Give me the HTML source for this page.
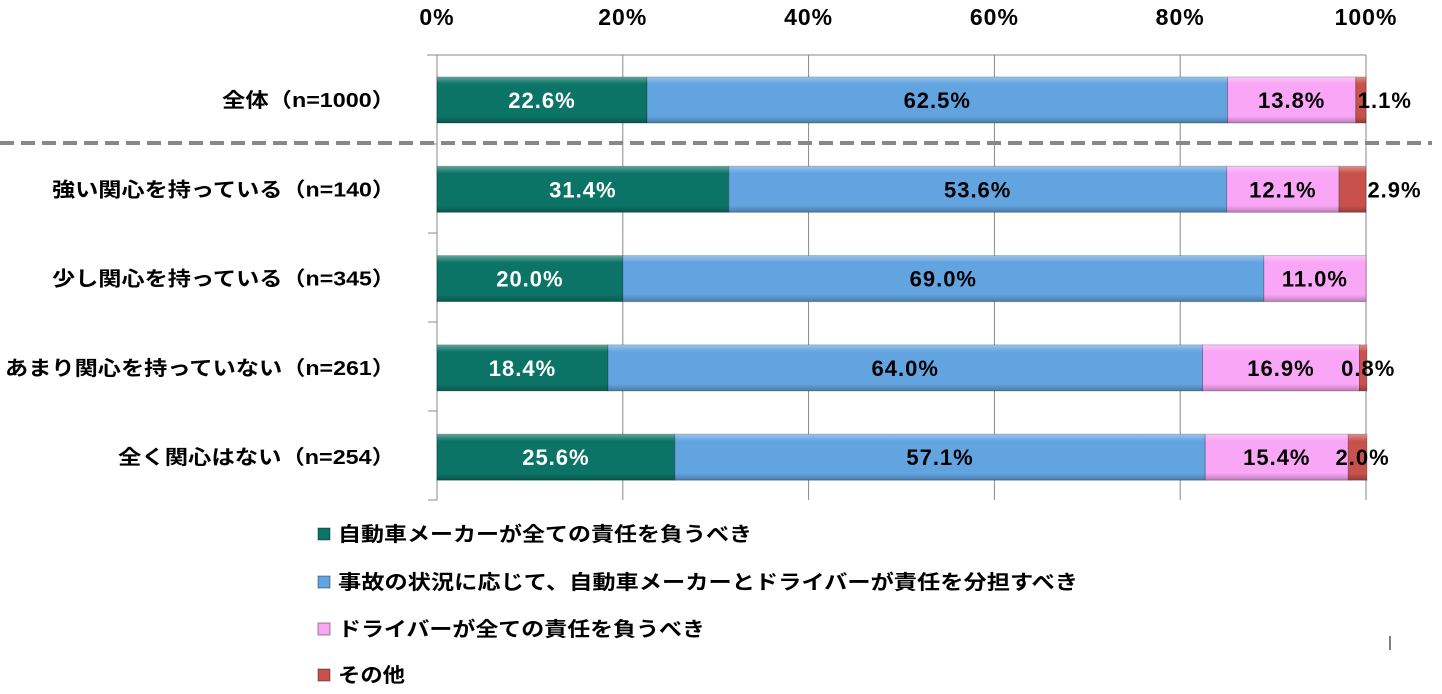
<!DOCTYPE html>
<html><head><meta charset="utf-8">
<style>
body{margin:0;background:#fff;width:1442px;height:689px;overflow:hidden;font-family:"Liberation Sans","Noto Sans CJK JP",sans-serif;}
svg text{font-weight:bold;}
</style></head>
<body>
<svg id="chart" width="1442" height="689" xmlns="http://www.w3.org/2000/svg">
<defs>
<linearGradient id="shade" x1="0" y1="0" x2="0" y2="1">
<stop offset="0" stop-color="#fff" stop-opacity="0.35"/>
<stop offset="0.15" stop-color="#fff" stop-opacity="0"/>
<stop offset="0.85" stop-color="#000" stop-opacity="0"/>
<stop offset="1" stop-color="#000" stop-opacity="0.25"/>
</linearGradient>
</defs>
<g id="grid"></g>
<g id="bars"></g>
<g id="legend"></g>
</svg>
<script>
const categories=["全体（n=1000）","強い関心を持っている（n=140）","少し関心を持っている（n=345）","あまり関心を持っていない（n=261）","全く関心はない（n=254）"];
const seriesNames=["自動車メーカーが全ての責任を負うべき","事故の状況に応じて、自動車メーカーとドライバーが責任を分担すべき","ドライバーが全ての責任を負うべき","その他"];
const maker=[22.6,31.4,20.0,18.4,25.6];
const shared=[62.5,53.6,69.0,64.0,57.1];
const driver=[13.8,12.1,11.0,16.9,15.4];
const other=[1.1,2.9,0,0.8,2.0];
const tickLabels=["0%","20%","40%","60%","80%","100%"];
const tickValues=[0,20,40,60,80,100];

const NS="http://www.w3.org/2000/svg";
const colors=["#0b7466","#62a4e0","#f9a6f6","#c8524b"];
const textColors=["#fff","#000","#000","#000"];
const x0=437,x1=1366;
const xs=v=>x0+(x1-x0)*v/100;
const rowY=i=>100+i*89.3;
const barH=46;
function mk(tag,attrs,parent){const e=document.createElementNS(NS,tag);for(const k in attrs)e.setAttribute(k,attrs[k]);parent.appendChild(e);return e;}
const grid=document.getElementById('grid'),bars=document.getElementById('bars'),legend=document.getElementById('legend');

tickValues.forEach((t,i)=>{
  const l=mk('line',{x1:xs(t),x2:xs(t),y1:55,y2:500,stroke:'#888','stroke-width':1},grid);
  
  
  const tx=mk('text',{x:xs(t),y:25,'text-anchor':'middle','font-size':23,'letter-spacing':1,fill:'#000'},grid);
  tx.textContent=tickLabels[i];
  
  
});
let ax=mk('line',{x1:427,x2:x1,y1:55,y2:55,stroke:'#888','stroke-width':1},grid);


for(let i=0;i<=categories.length;i++){
  const y=55+i*89;
  const tk=mk('line',{x1:428,x2:437,y1:y,y2:y,stroke:'#888'},grid);
  
  
}
const dl=mk('line',{x1:0,x2:1432,y1:143,y2:143,stroke:'#888','stroke-width':4,'stroke-dasharray':'14 7'},grid);



const series=[maker,shared,driver,other];
const smallDx=[24,42,6,5,5];
const catWidths=[173,343,343,390,277];
categories.forEach((c,i)=>{
  const cy=rowY(i);
  const lab=mk('text',{x:395,y:cy+7,'text-anchor':'end','font-size':20,fill:'#000',textLength:catWidths[i],lengthAdjust:'spacingAndGlyphs'},bars);
  lab.textContent=c;
  
  
  let acc=0;
  series.forEach((s,k)=>{
    const v=s[i];
    if(v<=0)return;
    const xa=xs(acc),xb=xs(acc+v);
    const r=mk('rect',{x:xa,y:cy-barH/2,width:xb-xa,height:barH,fill:colors[k],stroke:'rgba(0,0,0,0.25)','stroke-width':1},bars);
    
    
    const sh=mk('rect',{x:xa,y:cy-barH/2,width:xb-xa,height:barH,fill:'url(#shade)'},bars);
    
    
    let lx=(xa+xb)/2;
    if(v<4)lx+=(smallDx[i]||5);
    const t=mk('text',{x:lx,y:cy+8,'text-anchor':'middle','font-size':22,'letter-spacing':1,fill:textColors[k]},bars);
    t.textContent=v.toFixed(1)+'%';
    
    
    acc+=v;
  });
});

const legY=[534,582,629,675];
const legWidths=[414,740,367,67];
seriesNames.forEach((n,k)=>{
  const r=mk('rect',{x:318,y:legY[k]-6,width:12,height:12,fill:colors[k],stroke:'rgba(0,0,0,0.4)'},legend);
  
  
  const t=mk('text',{x:338,y:legY[k]+7,'font-size':20,fill:'#000',textLength:legWidths[k],lengthAdjust:'spacingAndGlyphs'},legend);
  t.textContent=n;
  
  
});
const m=mk('line',{x1:1390,x2:1390,y1:636,y2:650,stroke:'#000'},legend);


</script>
</body></html>
